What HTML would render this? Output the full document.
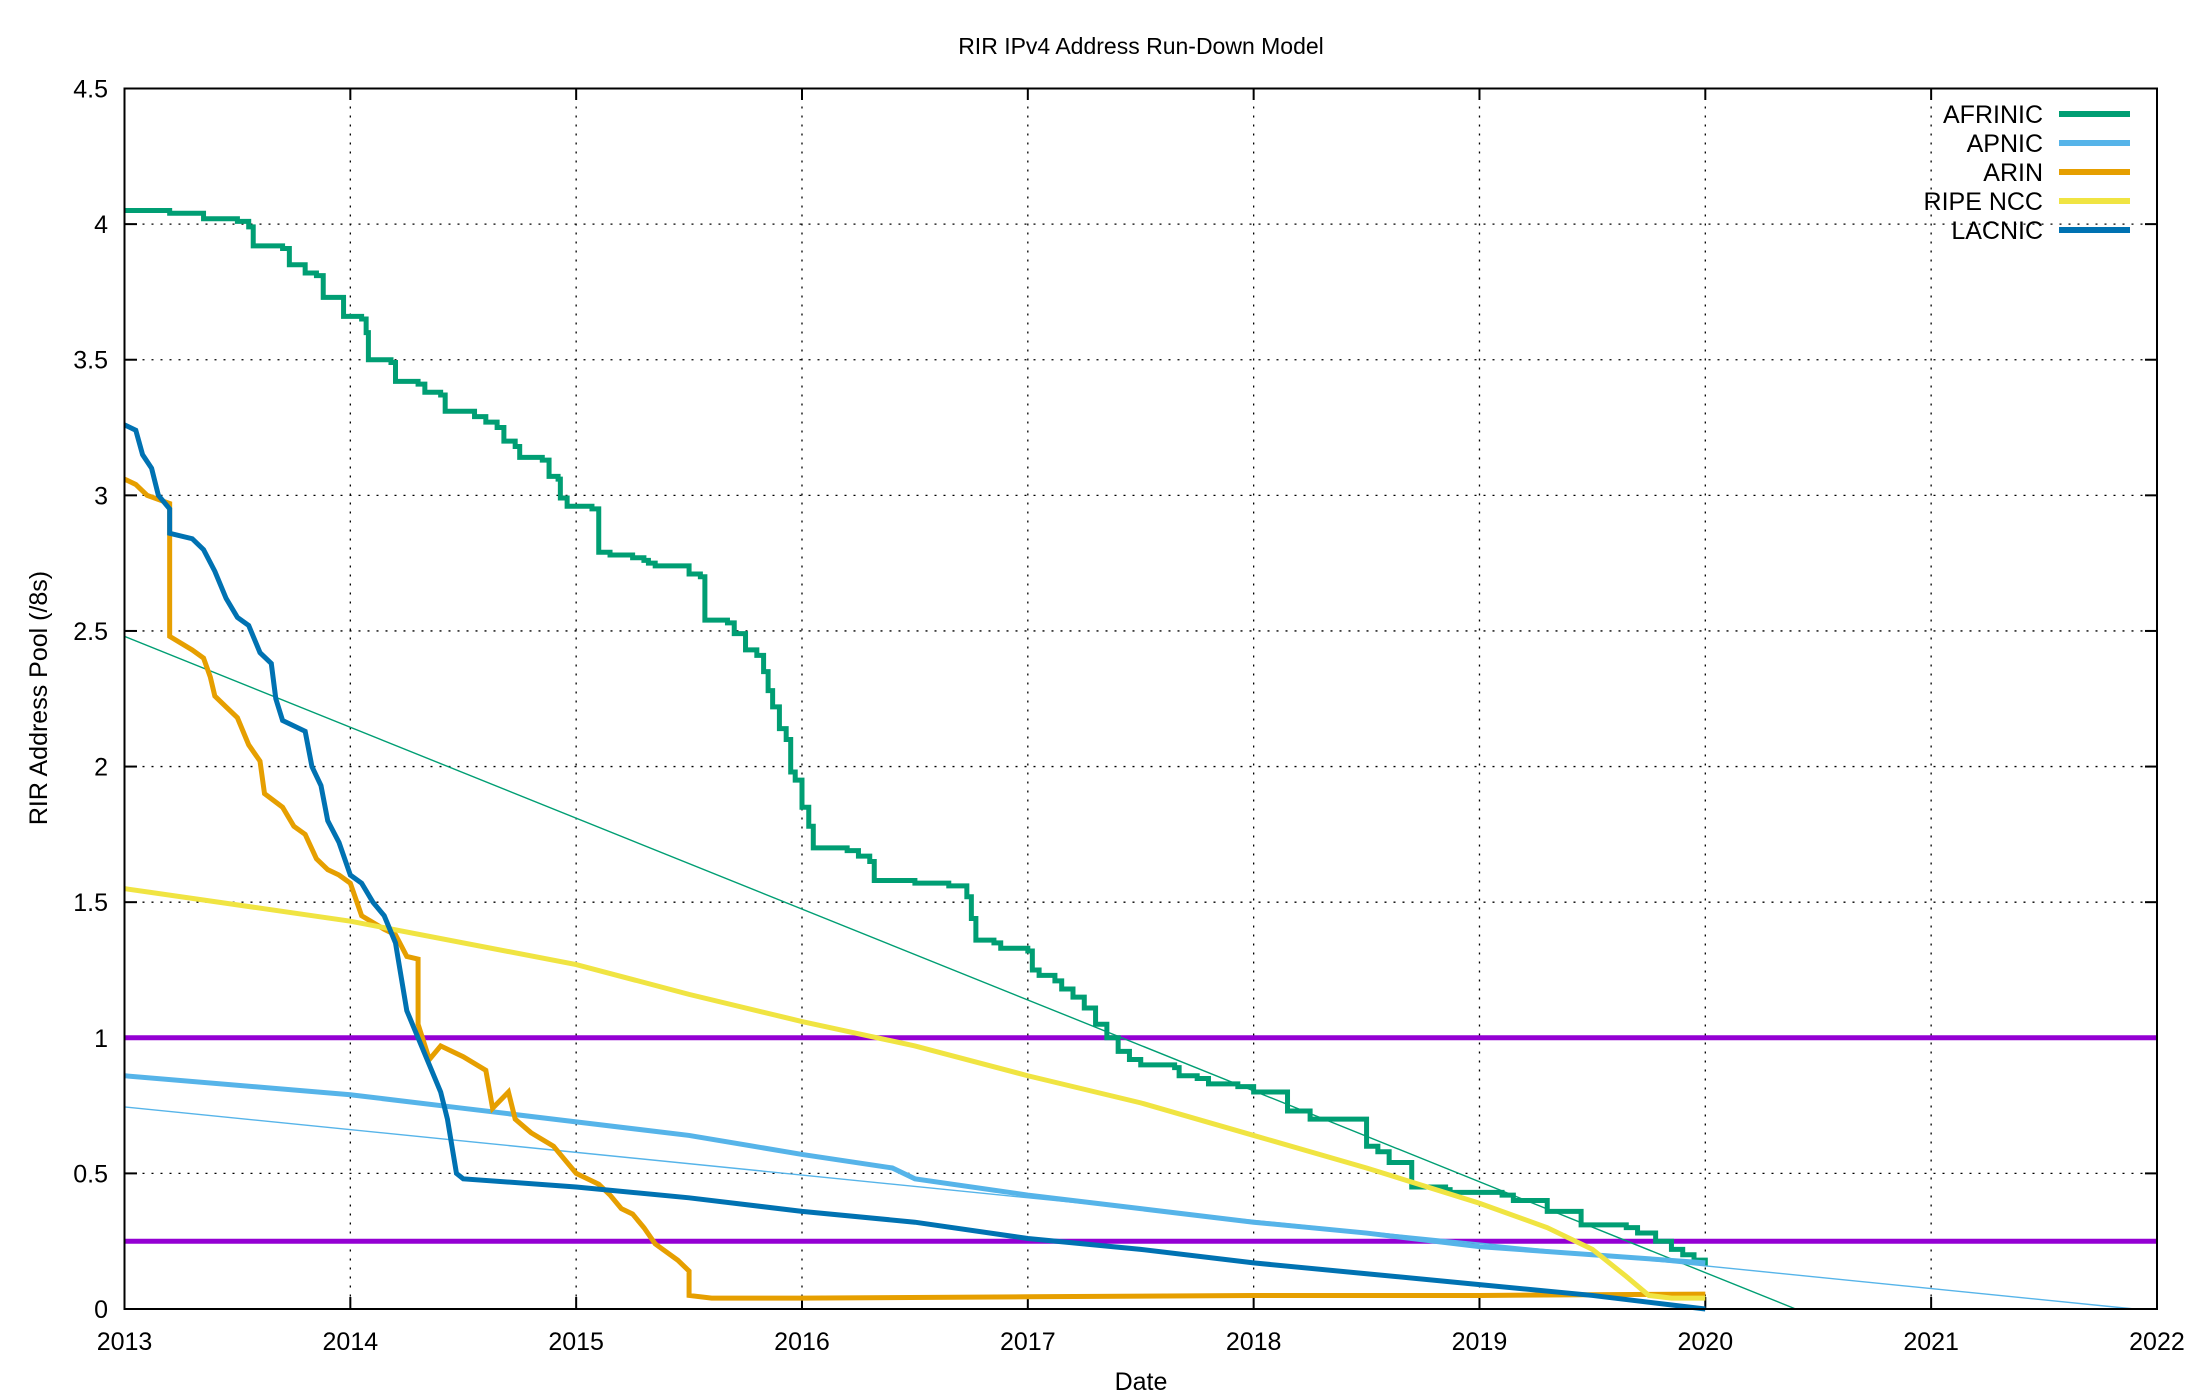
<!DOCTYPE html>
<html><head><meta charset="utf-8"><style>
body{margin:0;background:#fff;}
svg{display:block;font-family:"Liberation Sans",Arial,sans-serif;}
</style></head><body>
<svg id="s" width="2200" height="1400" xmlns="http://www.w3.org/2000/svg">
<rect width="2200" height="1400" fill="#fff"/>
<g id="grid"></g>
<g id="series"></g>
<rect x="124.5" y="88.5" width="2032.5" height="1220.5" fill="none" stroke="#000" stroke-width="2"/>
<text x="1141" y="54" font-size="23" text-anchor="middle">RIR IPv4 Address Run-Down Model</text>
<text x="1141" y="1390" font-size="25" text-anchor="middle">Date</text>
<text transform="translate(47,698) rotate(-90)" font-size="25" text-anchor="middle">RIR Address Pool (/8s)</text>
<g font-size="25" text-anchor="end">
<text x="2043" y="123">AFRINIC</text>
<text x="2043" y="152">APNIC</text>
<text x="2043" y="181">ARIN</text>
<text x="2043" y="210">RIPE NCC</text>
<text x="2043" y="239">LACNIC</text>
</g>
<g stroke-width="6">
<line x1="2059" x2="2130" y1="114" y2="114" stroke="#009e73"/>
<line x1="2059" x2="2130" y1="143" y2="143" stroke="#56b4e9"/>
<line x1="2059" x2="2130" y1="172" y2="172" stroke="#e69f00"/>
<line x1="2059" x2="2130" y1="201" y2="201" stroke="#f0e442"/>
<line x1="2059" x2="2130" y1="230" y2="230" stroke="#0072b2"/>
</g>
</svg>
<script>
var X=t=>124.5+(t-2013)*225.83, Y=v=>1309-v*271.22;
var NS="http://www.w3.org/2000/svg";
function el(p,tag,a,txt){var e=document.createElementNS(NS,tag);for(var k in a)e.setAttribute(k,a[k]);if(txt!=null)e.textContent=txt;p.appendChild(e);return e;}
var g=document.getElementById('grid'),s=document.getElementById('s');
for(var y=2013;y<=2022;y++){var x=X(y);
 if(y>2013&&y<2022){el(g,'line',{x1:x,x2:x,y1:88.5,y2:1309,stroke:'#000','stroke-width':1.3,'stroke-dasharray':'2,7'});
 el(g,'line',{x1:x,x2:x,y1:1309,y2:1297,stroke:'#000','stroke-width':2});el(g,'line',{x1:x,x2:x,y1:88.5,y2:100,stroke:'#000','stroke-width':2});}
 el(s,'text',{x:x,y:1350,'font-size':25,'text-anchor':'middle'},String(y));}
for(var i=0;i<=9;i++){var v=i*0.5,yy=Y(v);
 if(i>0&&i<9){el(g,'line',{x1:124.5,x2:2157,y1:yy,y2:yy,stroke:'#000','stroke-width':1.3,'stroke-dasharray':'2,7'});
 el(g,'line',{x1:124.5,x2:137,y1:yy,y2:yy,stroke:'#000','stroke-width':2});el(g,'line',{x1:2157,x2:2145,y1:yy,y2:yy,stroke:'#000','stroke-width':2});}
 el(s,'text',{x:108,y:yy+9,'font-size':25,'text-anchor':'end'},String(v));}
var sr=document.getElementById('series');
function poly(pts,col,w,step){var d='M'+X(pts[0])+','+Y(pts[1]);
 for(var i=2;i<pts.length;i+=2){ if(step){d+='H'+X(pts[i])+'V'+Y(pts[i+1]);} else d+='L'+X(pts[i])+','+Y(pts[i+1]);}
 el(sr,'path',{d:d,fill:'none',stroke:col,'stroke-width':w,'stroke-linejoin':'miter'});}
var pur='#9400d3';
el(sr,'line',{x1:124.5,x2:2157,y1:Y(1),y2:Y(1),stroke:pur,'stroke-width':5});
el(sr,'line',{x1:124.5,x2:2157,y1:Y(0.25),y2:Y(0.25),stroke:pur,'stroke-width':5});
var af=[2013.0,4.05,2013.2,4.04,2013.35,4.02,2013.5,4.01,2013.55,3.99,2013.57,3.92,2013.7,3.91,2013.73,3.85,2013.8,3.82,2013.85,3.81,2013.88,3.73,2013.97,3.72,2013.97,3.66,2014.05,3.65,2014.07,3.6,2014.08,3.5,2014.18,3.49,2014.2,3.42,2014.3,3.41,2014.33,3.38,2014.4,3.37,2014.42,3.31,2014.55,3.29,2014.6,3.27,2014.65,3.25,2014.68,3.2,2014.73,3.18,2014.75,3.14,2014.85,3.13,2014.88,3.07,2014.92,3.06,2014.93,2.99,2014.96,2.96,2015.07,2.95,2015.1,2.89,2015.1,2.79,2015.15,2.78,2015.25,2.77,2015.3,2.76,2015.32,2.75,2015.35,2.74,2015.5,2.73,2015.5,2.71,2015.55,2.7,2015.57,2.54,2015.67,2.53,2015.7,2.49,2015.75,2.43,2015.8,2.41,2015.83,2.35,2015.85,2.28,2015.87,2.22,2015.9,2.2,2015.9,2.14,2015.93,2.1,2015.95,1.98,2015.97,1.95,2016.0,1.85,2016.03,1.78,2016.05,1.7,2016.2,1.69,2016.25,1.67,2016.3,1.65,2016.32,1.58,2016.5,1.57,2016.65,1.56,2016.73,1.52,2016.75,1.44,2016.77,1.36,2016.85,1.35,2016.88,1.33,2017.0,1.32,2017.02,1.25,2017.05,1.23,2017.12,1.21,2017.15,1.18,2017.2,1.15,2017.25,1.11,2017.3,1.05,2017.35,1.0,2017.4,0.95,2017.45,0.92,2017.5,0.9,2017.65,0.89,2017.67,0.86,2017.75,0.85,2017.8,0.83,2017.93,0.82,2018.0,0.8,2018.15,0.79,2018.15,0.73,2018.25,0.72,2018.25,0.7,2018.5,0.69,2018.5,0.6,2018.55,0.58,2018.6,0.54,2018.7,0.5,2018.7,0.45,2018.85,0.44,2018.87,0.43,2019.1,0.42,2019.15,0.4,2019.3,0.39,2019.3,0.36,2019.45,0.35,2019.45,0.31,2019.65,0.3,2019.7,0.28,2019.78,0.25,2019.85,0.22,2019.9,0.2,2019.95,0.18,2020.0,0.16];
var ap=[2013,0.86,2014,0.79,2014.5,0.74,2015,0.69,2015.5,0.64,2016,0.57,2016.4,0.52,2016.5,0.48,2017,0.42,2017.5,0.37,2018,0.32,2018.5,0.28,2019,0.23,2019.5,0.2,2020,0.17];
var ar=[2013,3.06,2013.05,3.04,2013.1,3.0,2013.2,2.97,2013.2,2.48,2013.3,2.43,2013.35,2.4,2013.38,2.33,2013.4,2.26,2013.45,2.22,2013.5,2.18,2013.55,2.08,2013.6,2.02,2013.62,1.9,2013.7,1.85,2013.75,1.78,2013.8,1.75,2013.85,1.66,2013.9,1.62,2013.95,1.6,2014.0,1.57,2014.05,1.45,2014.15,1.4,2014.2,1.38,2014.25,1.3,2014.3,1.29,2014.3,1.05,2014.35,0.92,2014.4,0.97,2014.5,0.93,2014.6,0.88,2014.63,0.74,2014.7,0.8,2014.73,0.7,2014.8,0.65,2014.9,0.6,2015.0,0.5,2015.1,0.46,2015.15,0.42,2015.2,0.37,2015.25,0.35,2015.3,0.3,2015.35,0.24,2015.45,0.18,2015.5,0.14,2015.5,0.05,2015.6,0.04,2016,0.04,2017,0.045,2018,0.05,2019,0.05,2020,0.055];
var ri=[2013,1.55,2014,1.43,2015,1.27,2015.5,1.16,2016,1.06,2016.5,0.97,2017,0.86,2017.5,0.76,2018,0.64,2018.5,0.52,2019,0.39,2019.3,0.3,2019.5,0.22,2019.65,0.12,2019.75,0.05,2019.85,0.04,2020,0.04];
var la=[2013,3.26,2013.05,3.24,2013.08,3.15,2013.12,3.1,2013.15,3.0,2013.2,2.95,2013.2,2.86,2013.3,2.84,2013.35,2.8,2013.4,2.72,2013.45,2.62,2013.5,2.55,2013.55,2.52,2013.6,2.42,2013.65,2.38,2013.67,2.25,2013.7,2.17,2013.8,2.13,2013.83,2.0,2013.87,1.93,2013.9,1.8,2013.95,1.72,2014.0,1.6,2014.05,1.57,2014.1,1.5,2014.15,1.45,2014.2,1.35,2014.22,1.25,2014.25,1.1,2014.3,1.0,2014.35,0.9,2014.4,0.8,2014.43,0.7,2014.45,0.6,2014.47,0.5,2014.5,0.48,2015,0.45,2015.5,0.41,2016,0.36,2016.5,0.32,2017,0.26,2017.5,0.22,2018,0.17,2018.5,0.13,2019,0.09,2019.5,0.05,2020,0.0];
poly(af,'#009e73',5,true);
poly([2013,2.48,2020.4,0],'#009e73',1.4,false);
poly(ap,'#56b4e9',5,false);
poly([2013,0.745,2021.9,0],'#56b4e9',1.4,false);
poly(ar,'#e69f00',5,false);
poly(ri,'#f0e442',5,false);
poly(la,'#0072b2',5,false);
</script>
</body></html>
